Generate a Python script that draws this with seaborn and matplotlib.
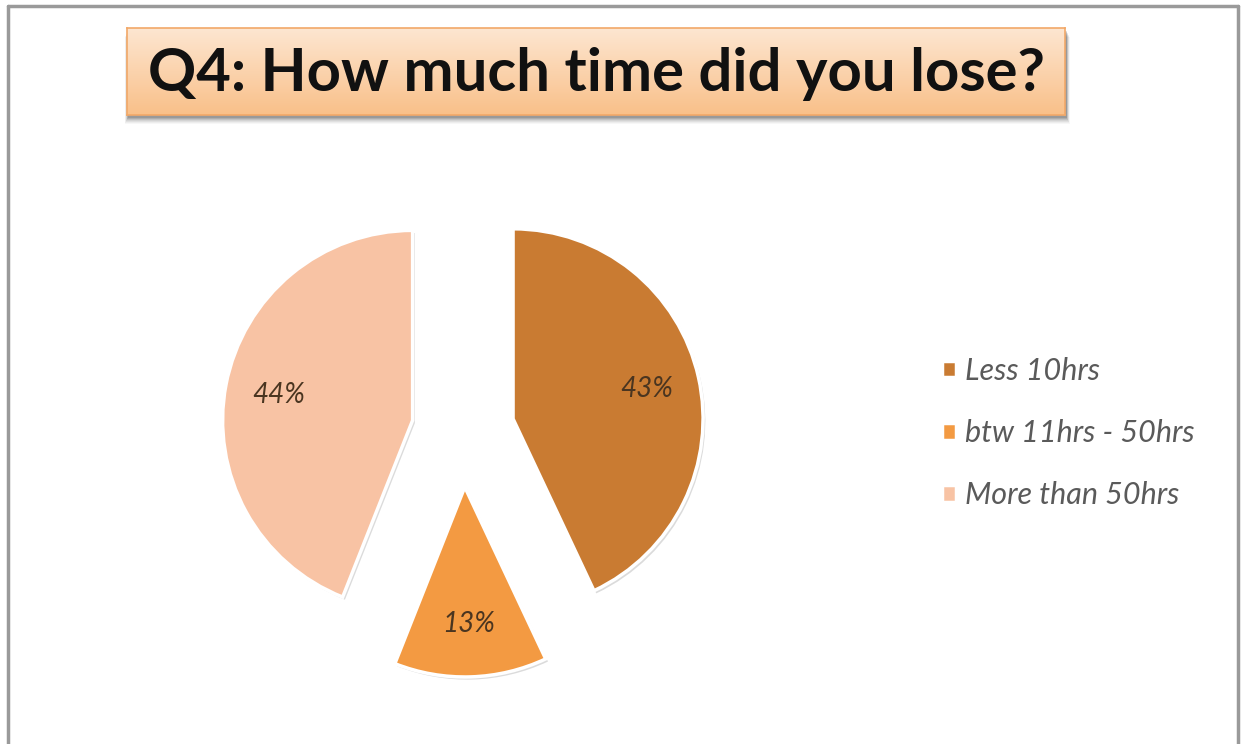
import matplotlib
matplotlib.use("Agg")
import matplotlib.pyplot as plt
import numpy as np
import seaborn as sns
from matplotlib.patches import Rectangle

# data
categories = ["Less 10hrs", "btw 11hrs - 50hrs", "More than 50hrs"]
shares = [43, 13, 44]
explode = [0.27, 0.30, 0.27]
colors = ["#C97B32", "#F39A42", "#F8C3A4"]
title = "Q4: How much time did you lose?"

sns.set_theme(style="white")
plt.rcParams["font.family"] = ["Lato", "DejaVu Sans"]

W, H = 1241, 744
fig = plt.figure(figsize=(W / 100, H / 100), dpi=100)
fig.patch.set_facecolor("white")

# outer frame (gray, no bottom edge visible)
frame = dict(color="#9a9a9a", lw=2.5, transform=fig.transFigure)
fig.add_artist(plt.Line2D([8 / W, 8 / W], [0, 1 - 6 / H], **frame))
fig.add_artist(plt.Line2D([8 / W, 1238 / W], [1 - 6 / H, 1 - 6 / H], **frame))
fig.add_artist(plt.Line2D([1238 / W, 1238 / W], [0, 1 - 6 / H], **frame))

# pie axes: centre (463, 430) px, radius 190 px
cx, cy, r = 463, 430, 190
half = r * 1.5
ax = fig.add_axes([(cx - half) / W, (H - cy - half) / H, 2 * half / W, 2 * half / H])

# soft shadow under the slices
ax.pie(shares, explode=explode, colors=["#b0b0b0"] * 3, startangle=90,
       counterclock=False, center=(0.012, -0.014), radius=1.0,
       wedgeprops=dict(edgecolor="none", alpha=0.45))
wedges, texts, autotexts = ax.pie(
    shares, explode=explode, colors=colors, startangle=90, counterclock=False,
    autopct="%d%%", pctdistance=0.72, radius=1.0,
    wedgeprops=dict(edgecolor="white", linewidth=2.5),
    textprops=dict(fontsize=20, style="italic", color="#4a3520"),
)
ax.set_xlim(-1.5, 1.5)
ax.set_ylim(-1.5, 1.5)
ax.set_axis_off()

# legend
fig.legend(wedges, categories, loc="upper left",
           bbox_to_anchor=(942 / W, 1 - 357 / H), frameon=False,
           borderaxespad=0, borderpad=0,
           prop=dict(size=22, style="italic"), labelcolor="#5a5a5a",
           handlelength=0.45, handleheight=0.45, handletextpad=0.3,
           labelspacing=1.12)

# title box with shadow and gradient
bx0, by0, bx1, by1 = 127, 28, 1065, 115
for k, a in zip(range(1, 8), [0.12, 0.10, 0.08, 0.06, 0.05, 0.04, 0.03]):
    fig.add_artist(Rectangle(((bx0 + 1 - k * 0.5) / W, (H - by1 - 2 - k) / H),
                             (bx1 - bx0 + k) / W, (by1 - by0) / H,
                             transform=fig.transFigure, facecolor="black",
                             alpha=a, edgecolor="none", zorder=0))
tax = fig.add_axes([bx0 / W, (H - by1) / H, (bx1 - bx0) / W, (by1 - by0) / H])
grad = np.linspace(0, 1, 100).reshape(-1, 1)
cmap = matplotlib.colors.LinearSegmentedColormap.from_list("tb", ["#FDE6D1", "#F9C089"])
tax.imshow(grad, aspect="auto", cmap=cmap, extent=[0, 1, 0, 1], origin="upper")
tax.set_xticks([])
tax.set_yticks([])
for s in tax.spines.values():
    s.set_color("#F2A868")
    s.set_linewidth(1.2)
tax.text(0.5, 0.47, title, ha="center", va="center", fontsize=43, weight="bold",
         color="#111111", transform=tax.transAxes)

fig.savefig("out.png", dpi=100, facecolor="white")
